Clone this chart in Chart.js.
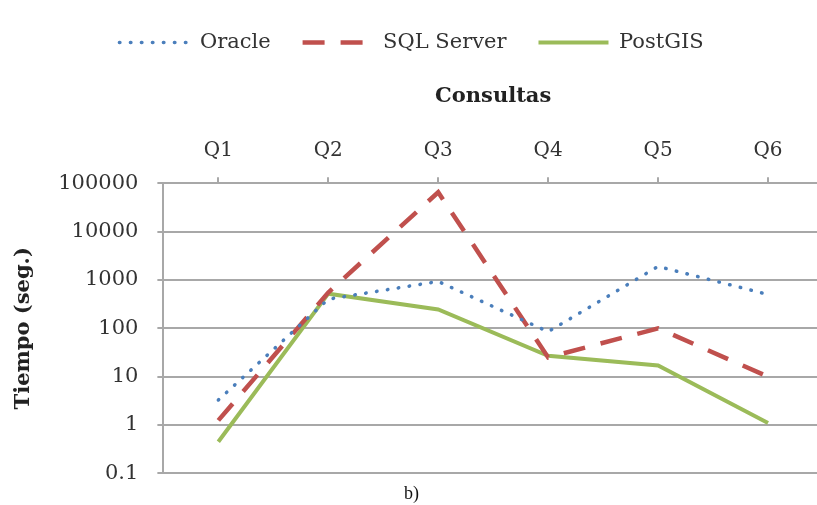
<!DOCTYPE html>
<html>
<head>
<meta charset="utf-8">
<script src="https://cdn.jsdelivr.net/npm/chart.js@4.4.1/dist/chart.umd.min.js"></script>
<style>
  html, body { margin: 0; padding: 0; background: #fff; overflow: hidden; }
  #wrap { position: relative; width: 830px; height: 505px; }
</style>
</head>
<body>
<div id="wrap"><canvas id="tiemposChart"></canvas></div>
<script>
const consultas = ['Q1', 'Q2', 'Q3', 'Q4', 'Q5', 'Q6'];
const oracle = [3.3, 400, 930, 85, 1900, 500];
const sqlServer = [1.25, 550, 65000, 25, 100, 10];
const postgis = [0.45, 520, 245, 27, 17, 1.1];
const yTicks = [0.1, 1, 10, 100, 1000, 10000, 100000];

const gridColor = '#a8a8a8';
const textColor = '#333333';

// legend entries drawn as short line samples with the series dash
function lineLabels(chart) {
  return chart.data.datasets.map((ds, i) => ({
    text: ds.label,
    fillStyle: ds.borderColor,
    strokeStyle: ds.borderColor,
    lineWidth: ds.borderWidth,
    lineDash: ds.borderDash || [],
    lineCap: ds.borderCapStyle || 'butt',
    pointStyle: 'line',
    fontColor: textColor,
    hidden: false,
    datasetIndex: i
  }));
}

const ctx = document.getElementById('tiemposChart').getContext('2d');
const tiemposChart = new Chart(ctx, {
  type: 'line',
  data: {
    labels: consultas,
    datasets: [{
      label: 'Oracle',
      data: oracle,
      borderColor: '#4a7ebb',
      backgroundColor: '#4a7ebb',
      borderWidth: 3.5,
      borderDash: [0.5, 10.5],
      borderCapStyle: 'round',
      pointRadius: 0,
      tension: 0
    }, {
      label: 'SQL Server',
      data: sqlServer,
      borderColor: '#c0504d',
      backgroundColor: '#c0504d',
      borderWidth: 4.5,
      borderDash: [22, 16],
      pointRadius: 0,
      tension: 0
    }, {
      label: 'PostGIS',
      data: postgis,
      borderColor: '#9bbb59',
      backgroundColor: '#9bbb59',
      borderWidth: 4,
      pointRadius: 0,
      tension: 0
    }]
  },
  options: {
    responsive: true,
    maintainAspectRatio: false,
    animation: false,
    layout: {
      padding: { top: 0, right: 7, bottom: 0, left: 0 }
    },
    plugins: {
      legend: {
        position: 'top',
        labels: {
          usePointStyle: true,
          pointStyleWidth: 70,
          boxHeight: 21,
          padding: 32,
          color: textColor,
          font: { family: 'DejaVu Serif', size: 21 },
          generateLabels: lineLabels
        }
      },
      title: {
        display: true,
        position: 'bottom',
        text: 'b)',
        color: '#111',
        padding: { top: 10, bottom: 0 },
        font: { family: 'Liberation Serif', size: 18, weight: 'normal', lineHeight: 1.2 }
      },
      tooltip: { enabled: false }
    },
    scales: {
      x: {
        position: 'top',
        offset: true,
        grid: {
          drawOnChartArea: false,
          drawTicks: true,
          tickLength: 6,
          color: gridColor,
          lineWidth: 2
        },
        border: { color: gridColor, width: 2 },
        ticks: {
          padding: 14,
          color: textColor,
          font: { family: 'DejaVu Serif', size: 20 }
        },
        title: {
          display: true,
          text: 'Consultas',
          color: '#222',
          padding: { top: 21, bottom: 16 },
          font: { family: 'DejaVu Serif', size: 21, weight: 'bold' }
        }
      },
      y: {
        type: 'logarithmic',
        min: 0.1,
        max: 100000,
        afterBuildTicks: axis => {
          axis.ticks = yTicks.map(v => ({ value: v }));
        },
        grid: {
          color: gridColor,
          lineWidth: 2,
          tickLength: 6
        },
        border: { color: gridColor, width: 2 },
        ticks: {
          autoSkip: false,
          padding: 19,
          color: textColor,
          font: { family: 'DejaVu Serif', size: 21 },
          callback: value => String(value)
        },
        title: {
          display: true,
          text: 'Tiempo (seg.)',
          color: '#222',
          padding: { top: 11, bottom: 3 },
          font: { family: 'DejaVu Serif', size: 21, weight: 'bold' }
        }
      }
    }
  }
});
</script>
</body>
</html>
